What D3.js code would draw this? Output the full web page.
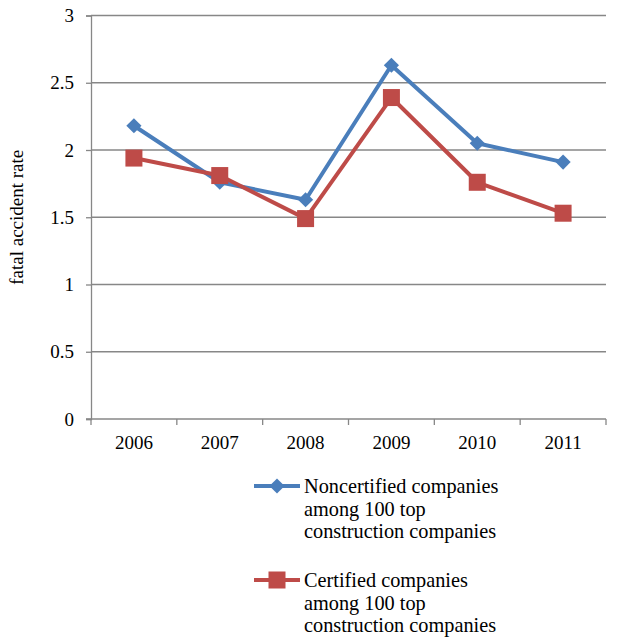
<!DOCTYPE html>
<html><head><meta charset="utf-8">
<script src="https://cdn.jsdelivr.net/npm/d3@7/dist/d3.min.js"></script>
<style>body{margin:0;background:#fff}svg{display:block}svg text{font-family:'Liberation Serif','Times New Roman',Times,serif !important;fill:#000}</style>
</head><body><svg id="c" width="623" height="638"></svg>
<script>
const years = ["2006","2007","2008","2009","2010","2011"];
const noncertified = [2.18, 1.76, 1.63, 2.63, 2.05, 1.91];
const certified = [1.94, 1.81, 1.49, 2.39, 1.76, 1.53];
const yTicks = [0, 0.5, 1, 1.5, 2, 2.5, 3];
const seriesNames = [["Noncertified companies","among 100 top","construction companies"],["Certified companies","among 100 top","construction companies"]];

const svg = d3.select("#c");
const L = 91, R = 606, T = 15.5, B = 419;
const x = d3.scaleBand().domain(years).range([L, R]);
const y = d3.scaleLinear().domain([0, 3]).range([B, T]);
const grey = "#878787";
const FS = "19px";

// gridlines
svg.append("g").selectAll("line").data(yTicks.filter(d=>d>0)).join("line")
  .attr("x1", L).attr("x2", R).attr("y1", d=>y(d)).attr("y2", d=>y(d))
  .attr("stroke", grey).attr("stroke-width", 1.3);

// y axis
const ya = svg.append("g").attr("transform", `translate(${L},0)`)
  .call(d3.axisLeft(y).tickValues(yTicks).tickSize(5).tickPadding(12).tickFormat(d=>String(d)));
ya.attr("font-family", null).attr("font-size", null);
ya.select(".domain").attr("stroke", grey).attr("stroke-width", 1.3);
ya.selectAll(".tick line").attr("stroke", grey).attr("stroke-width", 1.3);
ya.selectAll(".tick text").style("font-size", FS);

// x axis
const xa = svg.append("g").attr("transform", `translate(0,${B})`)
  .call(d3.axisBottom(x).tickSize(0).tickPadding(17));
xa.attr("font-family", null).attr("font-size", null);
xa.select(".domain").attr("stroke", grey).attr("stroke-width", 1.3).attr("d", `M${L-5},0H${R}`);
xa.selectAll(".tick text").style("font-size", FS).attr("dy", "0.71em");
svg.append("g").selectAll("line").data(years.map((d,i)=>i).concat([years.length])).join("line")
  .attr("x1", i=> i<years.length ? x(years[i]) : R).attr("x2", i=> i<years.length ? x(years[i]) : R)
  .attr("y1", B).attr("y2", B+6).attr("stroke", grey).attr("stroke-width", 1.3);

// y title
svg.append("text").attr("transform", `translate(23,${(T+B)/2}) rotate(-90)`)
  .attr("text-anchor", "middle").style("font-size", "19px").text("fatal accident rate");

const cx = d => x(d) + x.bandwidth()/2;
const line = d3.line().x((d,i)=>cx(years[i])).y(d=>y(d));
const blue = "#4A7EBB", red = "#BE4B48";

svg.append("path").datum(noncertified).attr("d", line).attr("fill","none").attr("stroke", blue).attr("stroke-width", 4).attr("stroke-linejoin","round");
svg.append("path").datum(certified).attr("d", line).attr("fill","none").attr("stroke", red).attr("stroke-width", 4).attr("stroke-linejoin","round");

const diamond = d3.symbol().type(d3.symbolSquare).size(115);
svg.append("g").selectAll("path").data(noncertified).join("path")
  .attr("d", diamond).attr("fill", blue)
  .attr("transform", (d,i)=>`translate(${cx(years[i])},${y(d)}) rotate(45)`);
svg.append("g").selectAll("rect").data(certified).join("rect")
  .attr("x", (d,i)=>cx(years[i])-8.5).attr("y", d=>y(d)-8.5).attr("width", 17).attr("height", 17).attr("fill", red);

// legend
const legY = [486, 580];
const colors = [blue, red];
legY.forEach((ly, k) => {
  const g = svg.append("g");
  g.append("line").attr("x1", 254).attr("x2", 300).attr("y1", ly).attr("y2", ly).attr("stroke", colors[k]).attr("stroke-width", 4);
  if (k === 0) g.append("path").attr("d", diamond).attr("fill", blue).attr("transform", `translate(277,${ly}) rotate(45)`);
  else g.append("rect").attr("x", 268.5).attr("y", ly-8.5).attr("width", 17).attr("height", 17).attr("fill", red);
  seriesNames[k].forEach((t, j) => {
    g.append("text").attr("x", 304).attr("y", ly + j*22.6).attr("dy", "0.35em").style("font-size", "20.3px").text(t);
  });
});
</script></body></html>
